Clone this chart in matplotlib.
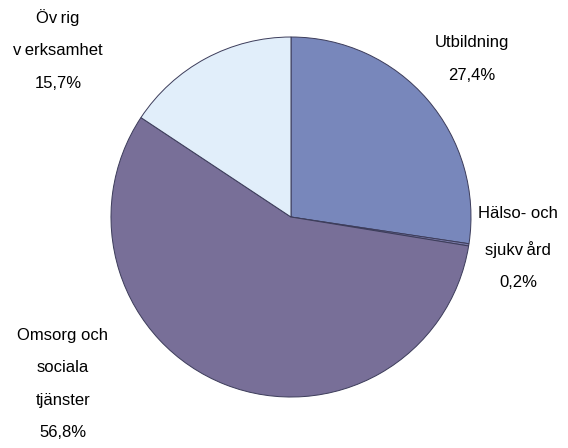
import matplotlib
matplotlib.use("Agg")
import matplotlib.pyplot as plt

plt.rcParams['font.family'] = ['Liberation Sans', 'DejaVu Sans']

# data
categories = ["Utbildning", "Hälso- och\nsjukv\u2009ård", "Omsorg och\nsociala\ntjänster", "Öv\u2009rig\nv\u2009erksamhet"]
values = [27.4, 0.2, 56.8, 15.7]
colors = ["#7887bb", "#7a7aa8", "#786f98", "#e1eefa"]

# label positions (data coords, pie radius = 1)
label_pos = [(1.006, 0.878), (1.261, -0.172), (-1.267, -0.928), (-1.294, 0.928)]

fig = plt.figure(figsize=(5.68, 4.48), dpi=100)
ax = fig.add_axes([0.1954, 0.1138, 0.6338, 0.8036])

wedges, _ = ax.pie(values, colors=colors, startangle=90, counterclock=False,
                   radius=1, wedgeprops=dict(edgecolor="#3c3c5a", linewidth=0.7))

for cat, v, (x, y) in zip(categories, values, label_pos):
    txt = cat + "\n" + ("%.1f%%" % v).replace(".", ",")
    ax.text(x, y, txt, ha="center", va="center", fontsize=12, linespacing=2.45)

ax.set_xlim(-1, 1)
ax.set_ylim(-1, 1)
ax.set_aspect("auto")
ax.axis("off")

fig.savefig("out.png", dpi=100)
